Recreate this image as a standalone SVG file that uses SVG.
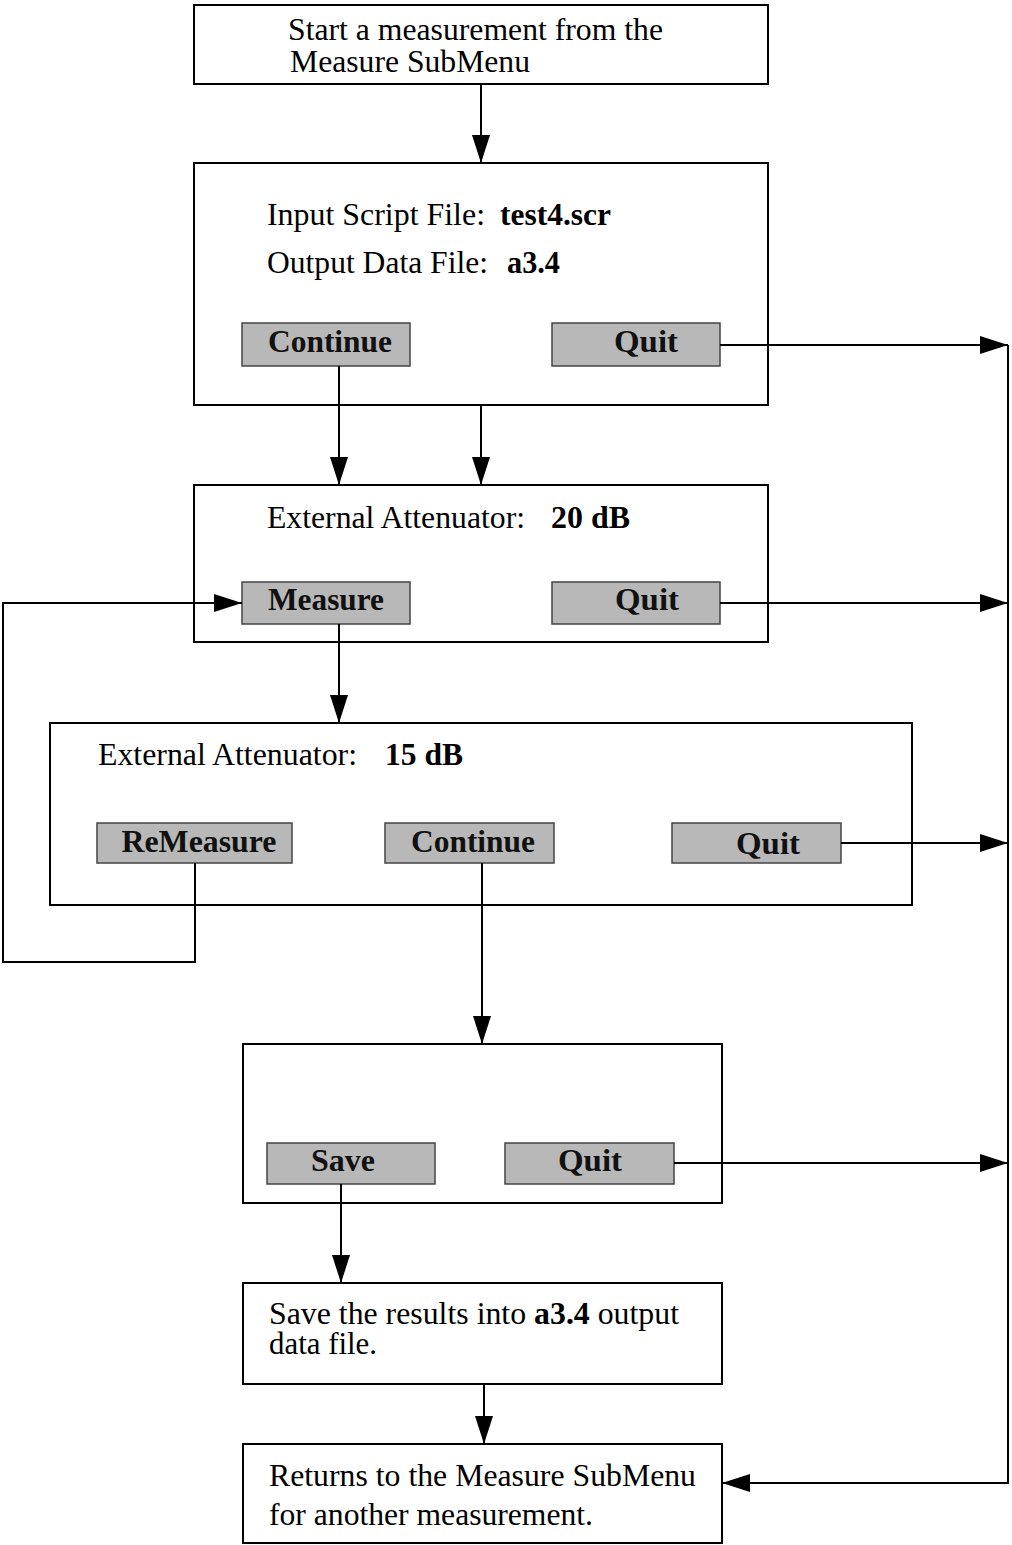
<svg xmlns="http://www.w3.org/2000/svg" width="1012" height="1545" viewBox="0 0 1012 1545">
<defs>
<marker id="ah" viewBox="0 0 28 18" refX="28" refY="9" markerWidth="28" markerHeight="18" markerUnits="userSpaceOnUse" orient="auto">
<path d="M0,0 L28,9 L0,18 Z" fill="#000"/>
</marker>
</defs>
<style>
.box{fill:#fff;stroke:#000;stroke-width:2}
.btn{fill:#b8b8b8;stroke:#444;stroke-width:1.5}
.t{font-family:"Liberation Serif","Times New Roman",serif;font-size:32px;fill:#000}
.b{font-weight:bold}
.bt{font-family:"Liberation Serif","Times New Roman",serif;font-size:31px;font-weight:bold;fill:#111;text-anchor:middle}
.c{fill:none;stroke:#000;stroke-width:2}
</style>
<rect width="1012" height="1545" fill="#fff"/>

<g id="start">
<rect class="box" x="194" y="5" width="574" height="79"/>
<text class="t" x="288" y="40" textLength="375" lengthAdjust="spacingAndGlyphs">Start a measurement from the</text>
<text class="t" x="290" y="72" textLength="240" lengthAdjust="spacingAndGlyphs">Measure SubMenu</text>
</g>

<g id="files">
<rect class="box" x="194" y="163" width="574" height="242"/>
<text class="t" x="267" y="225" textLength="218" lengthAdjust="spacingAndGlyphs">Input Script File:</text>
<text class="t b" x="500" y="225" textLength="111" lengthAdjust="spacingAndGlyphs">test4.scr</text>
<text class="t" x="267" y="273" textLength="221" lengthAdjust="spacingAndGlyphs">Output Data File:</text>
<text class="t b" x="507" y="273" textLength="53" lengthAdjust="spacingAndGlyphs">a3.4</text>
</g>
<g id="btn-continue1">
<rect class="btn" x="242" y="323" width="168" height="43"/>
<text class="bt" x="330" y="352" textLength="124" lengthAdjust="spacingAndGlyphs">Continue</text>
</g>
<g id="btn-quit1">
<rect class="btn" x="552" y="323" width="168" height="43"/>
<text class="bt" x="646" y="352" textLength="64" lengthAdjust="spacingAndGlyphs">Quit</text>
</g>

<g id="atten20">
<rect class="box" x="194" y="485" width="574" height="157"/>
<text class="t" x="267" y="528" textLength="258" lengthAdjust="spacingAndGlyphs">External Attenuator:</text>
<text class="t b" x="551" y="528" textLength="79" lengthAdjust="spacingAndGlyphs">20 dB</text>
</g>
<g id="btn-measure">
<rect class="btn" x="242" y="582" width="168" height="42"/>
<text class="bt" x="326" y="610" textLength="116" lengthAdjust="spacingAndGlyphs">Measure</text>
</g>
<g id="btn-quit2">
<rect class="btn" x="552" y="582" width="168" height="42"/>
<text class="bt" x="647" y="610" textLength="64" lengthAdjust="spacingAndGlyphs">Quit</text>
</g>

<g id="atten15">
<rect class="box" x="50" y="723" width="862" height="182"/>
<text class="t" x="98" y="765" textLength="259" lengthAdjust="spacingAndGlyphs">External Attenuator:</text>
<text class="t b" x="385" y="765" textLength="78" lengthAdjust="spacingAndGlyphs">15 dB</text>
</g>
<g id="btn-remeasure">
<rect class="btn" x="97" y="823" width="195" height="40"/>
<text class="bt" x="199" y="852" textLength="155" lengthAdjust="spacingAndGlyphs">ReMeasure</text>
</g>
<g id="btn-continue2">
<rect class="btn" x="385" y="823" width="169" height="40"/>
<text class="bt" x="473" y="852" textLength="124" lengthAdjust="spacingAndGlyphs">Continue</text>
</g>
<g id="btn-quit3">
<rect class="btn" x="672" y="823" width="169" height="40"/>
<text class="bt" x="768" y="854" textLength="64" lengthAdjust="spacingAndGlyphs">Quit</text>
</g>

<g id="savebox">
<rect class="box" x="243" y="1044" width="479" height="159"/>
</g>
<g id="btn-save">
<rect class="btn" x="267" y="1143" width="168" height="41"/>
<text class="bt" x="343" y="1171" textLength="64" lengthAdjust="spacingAndGlyphs">Save</text>
</g>
<g id="btn-quit4">
<rect class="btn" x="505" y="1143" width="169" height="41"/>
<text class="bt" x="590" y="1171" textLength="64" lengthAdjust="spacingAndGlyphs">Quit</text>
</g>

<g id="saveresults">
<rect class="box" x="243" y="1283" width="479" height="101"/>
<text class="t" x="269" y="1324" textLength="410" lengthAdjust="spacingAndGlyphs">Save the results into <tspan class="b">a3.4</tspan> output</text>
<text class="t" x="269" y="1354" textLength="108" lengthAdjust="spacingAndGlyphs">data file.</text>
</g>

<g id="returns">
<rect class="box" x="243" y="1444" width="479" height="99"/>
<text class="t" x="269" y="1486" textLength="427" lengthAdjust="spacingAndGlyphs">Returns to the Measure SubMenu</text>
<text class="t" x="269" y="1525" textLength="324" lengthAdjust="spacingAndGlyphs">for another measurement.</text>
</g>

<g id="connectors">
<path class="c" d="M481,84 V163" marker-end="url(#ah)"/>
<path class="c" d="M720,345 H1008" marker-end="url(#ah)"/>
<path class="c" d="M1008,345 V1483 H722" marker-end="url(#ah)"/>
<path class="c" d="M339,366 V485" marker-end="url(#ah)"/>
<path class="c" d="M481,405 V485" marker-end="url(#ah)"/>
<path class="c" d="M720,603 H1008" marker-end="url(#ah)"/>
<path class="c" d="M339,624 V723" marker-end="url(#ah)"/>
<path class="c" d="M195,863 V962 H3 V603 H242" marker-end="url(#ah)"/>
<path class="c" d="M841,843 H1008" marker-end="url(#ah)"/>
<path class="c" d="M482,863 V1044" marker-end="url(#ah)"/>
<path class="c" d="M674,1163 H1008" marker-end="url(#ah)"/>
<path class="c" d="M341,1184 V1283" marker-end="url(#ah)"/>
<path class="c" d="M484,1384 V1444" marker-end="url(#ah)"/>
</g>
</svg>
